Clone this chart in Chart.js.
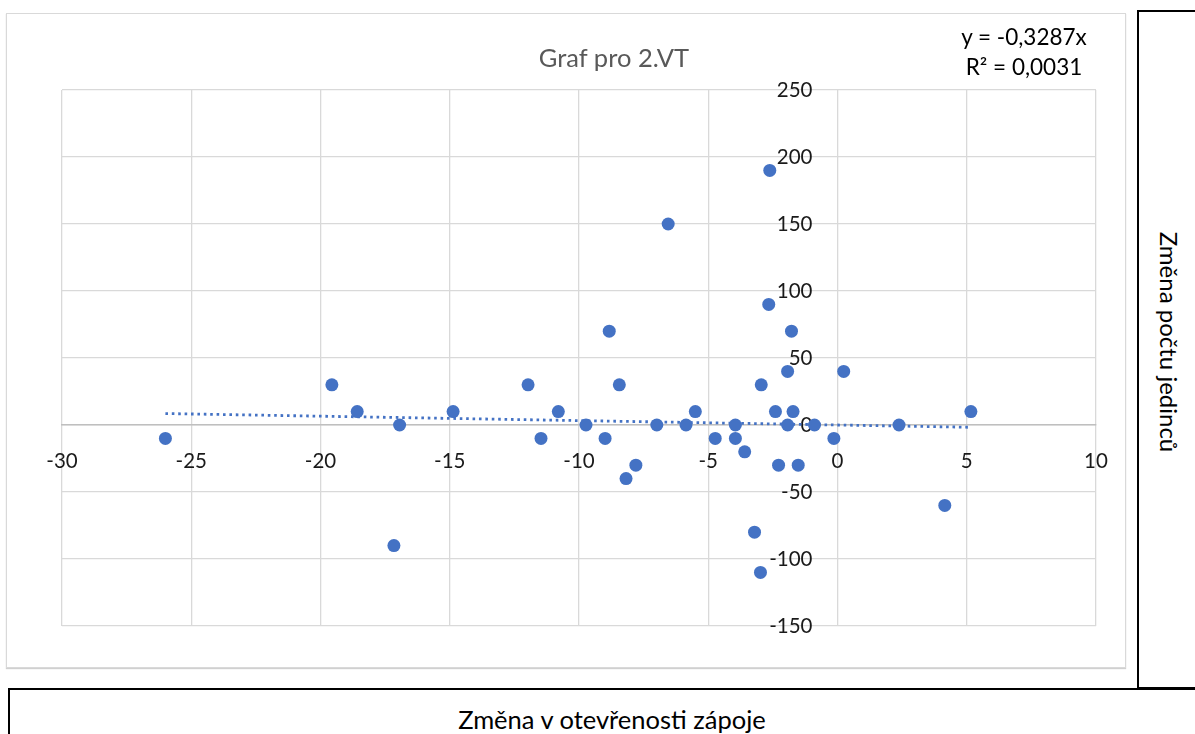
<!DOCTYPE html>
<html><head><meta charset="utf-8">
<script src="https://cdn.jsdelivr.net/npm/chart.js@4.4.1/dist/chart.umd.min.js"></script>
<style>
html,body{margin:0;padding:0;background:#fff;width:1195px;height:734px;overflow:hidden;font-family:Lato,"Open Sans",sans-serif;}
#frame{position:absolute;left:6px;top:13px;width:1118px;height:653px;border:1px solid #d9d9d9;box-shadow:0 1px 1px #d0d0d0;}
#wrap{position:absolute;left:7px;top:14px;width:1118px;height:653px;}
#title{position:absolute;left:414px;width:400px;top:40px;text-align:center;font-size:25.5px;line-height:34px;color:#595959;}
#eq{position:absolute;left:924px;width:200px;top:22px;text-align:center;font-size:22.5px;color:#000;line-height:30px;}
#rbox{position:absolute;left:1137px;top:10px;width:80px;height:675px;border:2px solid #000;}
#ylab{position:absolute;left:1169px;top:342px;transform:translate(-50%,-50%) rotate(90deg);white-space:nowrap;font-size:24px;color:#000;}
#bbox{position:absolute;left:8px;top:688px;width:1220px;height:80px;border:2px solid #000;}
#xlab{position:absolute;left:312px;width:600px;top:703px;text-align:center;font-size:25.5px;line-height:32px;color:#000;}
</style></head>
<body>
<div id="frame"></div>
<div id="wrap"><canvas id="c"></canvas></div>
<div id="title">Graf pro 2.VT</div>
<div id="eq">y = -0,3287x<br>R² = 0,0031</div>
<div id="rbox"></div>
<div id="ylab">Změna počtu jedinců</div>
<div id="bbox"></div>
<div id="xlab">Změna v otevřenosti zápoje</div>
<script>
const xValues = [-26, -19.56, -18.58, -16.94, -17.16, -14.87, -11.97, -11.47, -10.8, -9.73, -8.83, -8.44, -8.99, -8.18, -7.8, -6.99, -6.55, -5.86, -5.5, -4.73, -3.95, -3.95, -3.59, -3.21, -2.98, -2.95, -2.62, -2.66, -2.4, -2.28, -1.93, -1.93, -1.78, -1.72, -1.52, -0.89, -0.14, 0.24, 2.38, 4.15, 5.16];
const yValues = [-10, 30, 10, 0, -90, 10, 30, -10, 10, 0, 70, 30, -10, -40, -30, 0, 150, 0, 10, -10, 0, -10, -20, -80, -110, 30, 190, 90, 10, -30, 40, 0, 70, 10, -30, 0, -10, 40, 0, -60, 10];
const trendX = [-26, 5.16];
const trendY = [8.55, -1.70];
const xTicks = [-30, -25, -20, -15, -10, -5, 0, 5, 10];
const yTicks = [-150, -100, -50, 0, 50, 100, 150, 200, 250];

const pts = xValues.map((x, i) => ({x: x, y: yValues[i]}));
const trend = trendX.map((x, i) => ({x: x, y: trendY[i]}));
const tickFont = {family: 'Lato', size: 20.5};
const gridColor = '#d9d9d9';

new Chart(document.getElementById('c'), {
  type: 'scatter',
  data: {datasets: [
    {data: trend, type: 'line', showLine: true, borderColor: '#4472C4', borderWidth: 2.8, borderDash: [2.6, 3.8], pointRadius: 0, fill: false, order: 2},
    {data: pts, backgroundColor: '#4472C4', borderColor: '#4472C4', borderWidth: 0, pointRadius: 6.5, pointHoverRadius: 6.5, order: 1}
  ]},
  options: {
    responsive: true, maintainAspectRatio: false, animation: false,
    layout: {padding: {left: 55, top: 76, right: 29, bottom: 41}},
    plugins: {legend: {display: false}, tooltip: {enabled: false}},
    scales: {
      x: {type: 'linear', position: {y: 0}, min: -30, max: 10,
        afterFit: s => { s.height = 0; },
        afterBuildTicks: s => { s.ticks = xTicks.map(v => ({value: v})); },
        grid: {color: gridColor, lineWidth: 1.3, tickLength: 24, drawTicks: true, tickColor: 'rgba(0,0,0,0)'},
        border: {color: '#bfbfbf', width: 1.5},
        ticks: {font: tickFont, color: '#1a1a1a', padding: 0, maxRotation: 0, autoSkip: false}},
      y: {type: 'linear', position: {x: -0.97}, min: -150, max: 250,
        afterFit: s => { s.width = 0; },
        afterBuildTicks: s => { s.ticks = yTicks.map(v => ({value: v})); },
        grid: {color: gridColor, lineWidth: 1.3, drawTicks: false, tickLength: 0},
        border: {display: false},
        ticks: {font: tickFont, color: '#1a1a1a', padding: 0, autoSkip: false}}
    }
  }
});
</script>
</body></html>
